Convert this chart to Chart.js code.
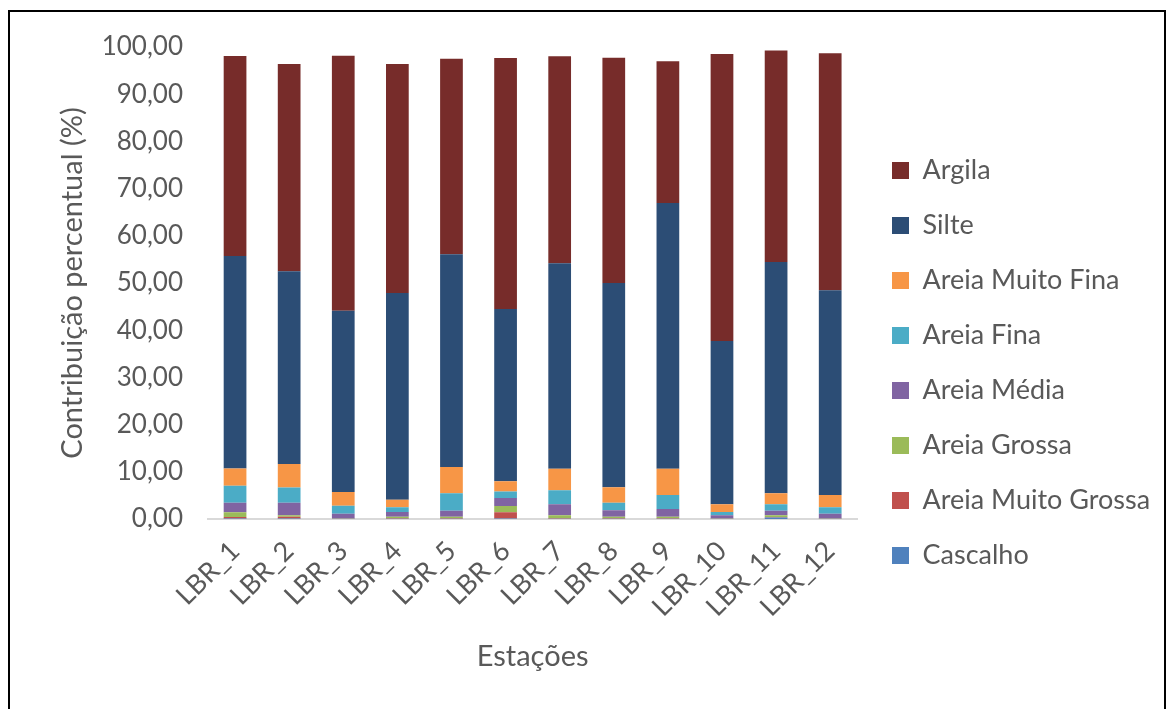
<!DOCTYPE html>
<html>
<head>
<meta charset="utf-8">
<script src="https://cdn.jsdelivr.net/npm/chart.js@4"></script>
<style>
  body { margin: 0; background: #fff; }
  #wrap { position: relative; width: 1170px; height: 709px; overflow: hidden; }
  #frame { position: absolute; left: 8px; top: 10px; width: 1158px; height: 720px; border: 2px solid #000; box-sizing: border-box; pointer-events: none; }
  #c { position: absolute; left: 0; top: 0; }
</style>
</head>
<body>
<div id="wrap">
  <canvas id="c" width="1170" height="709"></canvas>
  <div id="frame"></div>
</div>
<script>
const estacoes = ["LBR_1", "LBR_2", "LBR_3", "LBR_4", "LBR_5", "LBR_6", "LBR_7", "LBR_8", "LBR_9", "LBR_10", "LBR_11", "LBR_12"];

// percent per fraction, stacked from bottom (cascalho) to top (argila)
const cascalho      = [0.10, 0.10, 0.03, 0.05, 0.05, 0.10, 0.05, 0.05, 0.05, 0.05, 0.30, 0.05];
const areiaMGrossa  = [0.30, 0.40, 0.05, 0.10, 0.10, 1.32, 0.10, 0.10, 0.10, 0.05, 0.15, 0.05];
const areiaGrossa   = [1.05, 0.30, 0.07, 0.35, 0.35, 1.33, 0.63, 0.35, 0.35, 0.05, 0.33, 0.05];
const areiaMedia    = [2.00, 2.65, 0.97, 0.98, 1.26, 1.70, 2.32, 1.34, 1.62, 0.63, 0.98, 0.97];
const areiaFina     = [3.60, 3.25, 1.70, 1.00, 3.68, 1.35, 2.98, 1.62, 2.96, 0.70, 1.34, 1.35];
const areiaMFina    = [3.65, 4.95, 2.90, 1.62, 5.56, 2.18, 4.58, 3.26, 5.58, 1.62, 2.34, 2.61];
const silte         = [45.0, 40.85, 38.4, 43.8, 45.1, 36.5, 43.5, 43.3, 56.3, 34.6, 49.0, 43.4];
const argila        = [42.4, 43.9, 54.0, 48.5, 41.4, 53.2, 43.9, 47.7, 30.0, 60.8, 44.8, 50.2];

const series = [
  ["Cascalho", cascalho, "#4F81BD"],
  ["Areia Muito Grossa", areiaMGrossa, "#C0504D"],
  ["Areia Grossa", areiaGrossa, "#9BBB59"],
  ["Areia Média", areiaMedia, "#8064A2"],
  ["Areia Fina", areiaFina, "#4BACC6"],
  ["Areia Muito Fina", areiaMFina, "#F79646"],
  ["Silte", silte, "#2C4D75"],
  ["Argila", argila, "#772C2A"]
];

const FONT = "Lato";
const GREY = "#595959";
const LEGEND_PAD = 28;

// keep the legend column at a fixed x, away from the plot
const placeLegend = {
  id: "placeLegend",
  afterLayout(chart) {
    const lg = chart.legend;
    const w = lg.right - lg.left;
    lg.left = 892 - LEGEND_PAD;
    lg.right = lg.left + w;
  }
};

new Chart(document.getElementById("c"), {
  type: "bar",
  data: {
    labels: estacoes,
    datasets: series.map(([label, data, color]) => ({
      label,
      data,
      backgroundColor: color,
      borderWidth: 0,
      categoryPercentage: 1,
      barPercentage: 0.42
    }))
  },
  options: {
    responsive: false,
    animation: false,
    layout: { padding: { top: 47, bottom: 30, left: 0, right: 27 } },
    plugins: {
      tooltip: { enabled: false },
      legend: {
        position: "right",
        reverse: true,
        labels: {
          font: { family: FONT, size: 27 },
          color: GREY,
          boxWidth: 17,
          boxHeight: 17,
          padding: LEGEND_PAD
        }
      }
    },
    scales: {
      x: {
        stacked: true,
        grid: { display: false, drawTicks: false },
        border: { display: true, color: "#D9D9D9", width: 2 },
        ticks: {
          color: GREY,
          font: { family: FONT, size: 27 },
          minRotation: 45,
          maxRotation: 45,
          padding: 16
        },
        title: {
          display: true,
          text: "Estações",
          color: GREY,
          font: { family: FONT, size: 29 },
          padding: { top: 0, bottom: 5 }
        },
        afterFit: s => { s.height = 160; }
      },
      y: {
        stacked: true,
        min: 0,
        max: 100,
        grid: { display: false, drawTicks: false },
        border: { display: false },
        ticks: {
          stepSize: 10,
          color: GREY,
          font: { family: FONT, size: 26 },
          padding: 25,
          callback: v => Number(v).toFixed(2).replace(".", ",")
        },
        title: {
          display: true,
          text: "Contribuição percentual (%)",
          color: GREY,
          font: { family: FONT, size: 29 },
          padding: { top: 55, bottom: 0 }
        },
        afterFit: s => { s.width = 208; }
      }
    }
  },
  plugins: [placeLegend]
});
</script>
</body>
</html>
